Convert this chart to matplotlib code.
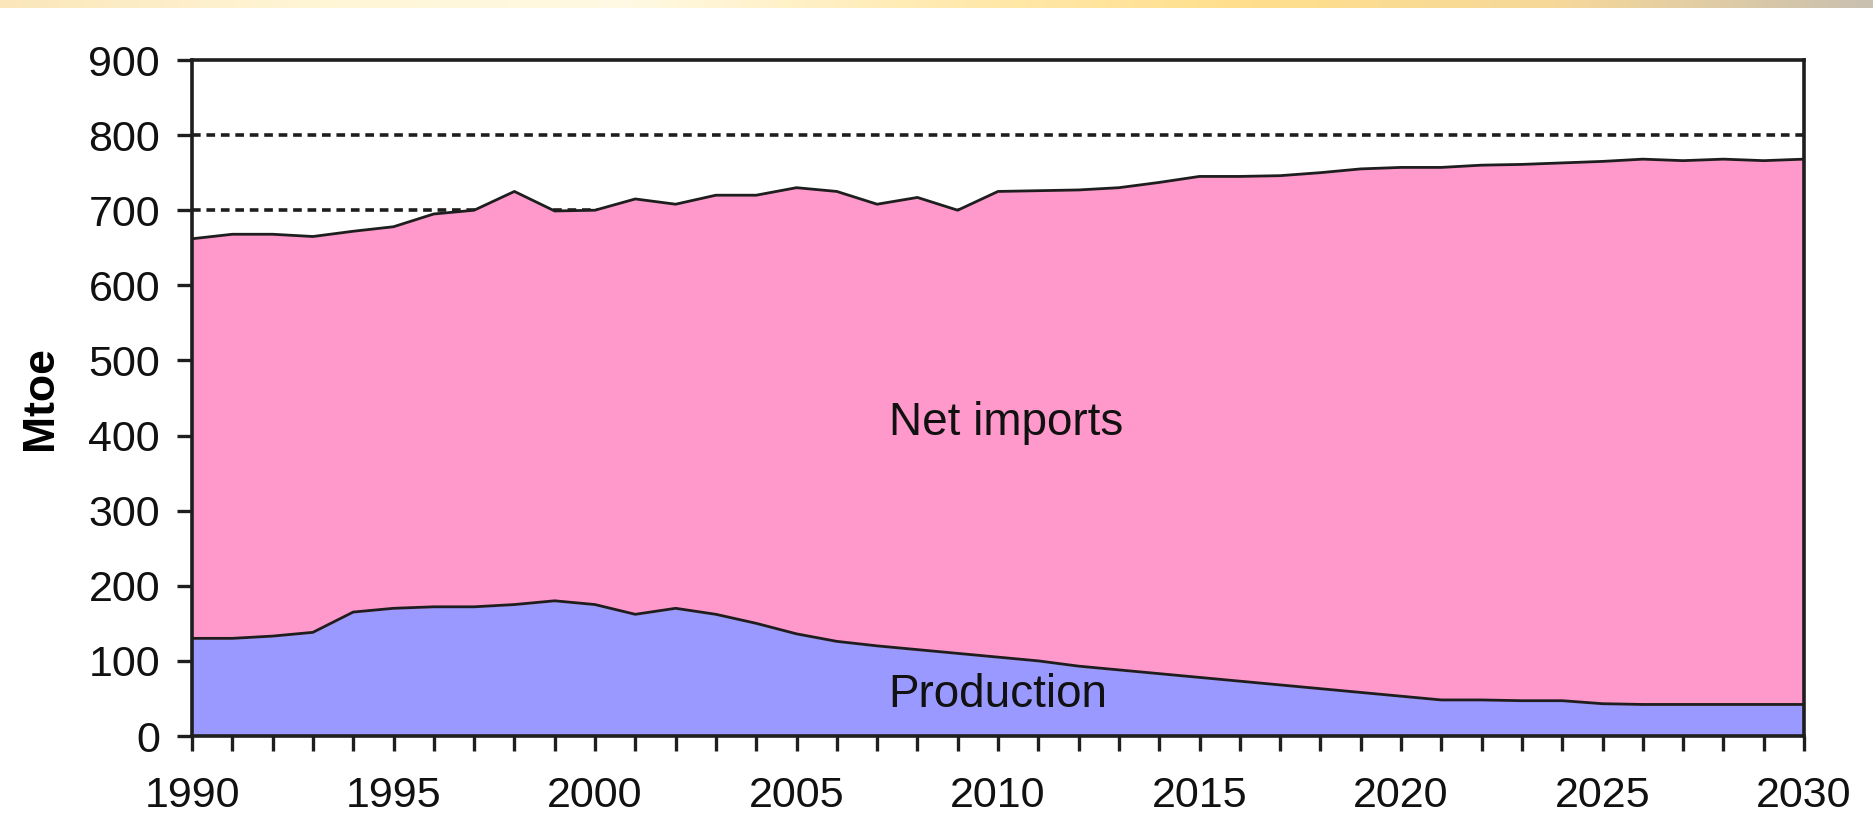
import numpy as np
import matplotlib
matplotlib.use('Agg')
from matplotlib import pyplot as plt
from matplotlib.colors import LinearSegmentedColormap

plt.rcParams['font.family'] = ['Liberation Sans', 'DejaVu Sans']

# data (Mtoe)
years = list(range(1990, 2031))
production = [130, 130, 133, 138, 165, 170, 172, 172, 175, 180,
              175, 162, 170, 162, 150, 136, 126, 120, 115, 110,
              105, 100, 93, 88, 83, 78, 73, 68, 63, 58,
              53, 48, 48, 47, 47, 43, 42, 42, 42, 42, 42]
total = [662, 668, 668, 665, 672, 678, 695, 700, 725, 699,
         700, 715, 708, 720, 720, 730, 725, 708, 717, 700,
         725, 726, 727, 730, 737, 745, 745, 746, 750, 755,
         757, 757, 760, 761, 763, 765, 768, 766, 768, 766, 768]
gridlines = [700, 800]
label_imports = ('Net imports', 2010.2, 417)
label_production = ('Production', 2010.0, 55)

fig = plt.figure(figsize=(18.74, 8.18), dpi=100)

# thin decorative gradient band along the top edge
band = fig.add_axes([0, 1 - 8 / 818, 1, 8 / 818])
cmap = LinearSegmentedColormap.from_list(
    'band', ['#fbe6bb', '#fff6d6', '#fff9e3', '#ffeab0', '#ffdf8c', '#f6d89a', '#c9c0b0'])
band.imshow(np.linspace(0, 1, 400)[None, :], aspect='auto', cmap=cmap)
band.axis('off')

ax = fig.add_axes([192 / 1874, 82 / 818, (1804 - 192) / 1874, (736 - 60) / 818])

ax.fill_between(years, 0, production, color='#9999ff', zorder=2)
ax.fill_between(years, production, total, color='#ff99cc', zorder=2)
ax.plot(years, production, color='#1e1e1e', lw=2.0, zorder=3)
ax.plot(years, total, color='#1e1e1e', lw=2.0, zorder=3)

for g in gridlines:
    ax.axhline(g, color='#1e1e1e', lw=2.6, linestyle=(0, (2.4, 1.6)), zorder=1)

ax.text(label_imports[1], label_imports[2], label_imports[0],
        ha='center', va='center', fontsize=33, color='#111111', zorder=4)
ax.text(label_production[1], label_production[2], label_production[0],
        ha='center', va='center', fontsize=33, color='#111111', zorder=4)

ax.set_xlim(1990, 2030)
ax.set_ylim(0, 900)
ax.set_xticks(range(1990, 2031, 5))
ax.set_xticks(years, minor=True)
ax.set_yticks(range(0, 901, 100))

ax.tick_params(axis='both', which='both', direction='out', length=11, width=2.4,
               color='#1e1e1e', labelsize=31, labelcolor='#111111')
ax.tick_params(axis='x', which='both', pad=18)
ax.tick_params(axis='y', pad=12)

for s in ax.spines.values():
    s.set_linewidth(2.6)
    s.set_color('#1e1e1e')
    s.set_zorder(5)

ax.set_ylabel('Mtoe', fontsize=32, fontweight='bold', labelpad=20)

fig.savefig('out.png', dpi=100)
